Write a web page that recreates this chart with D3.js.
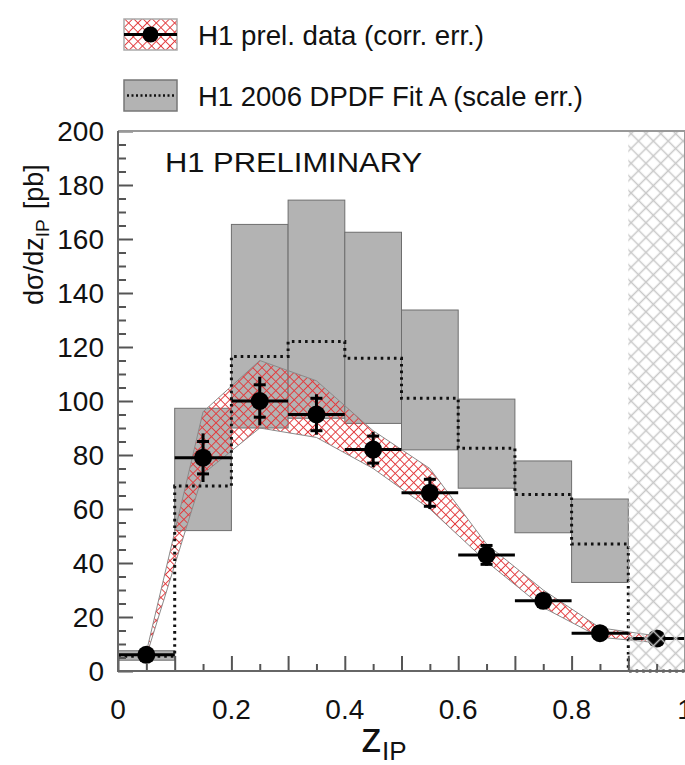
<!DOCTYPE html>
<html>
<head>
<meta charset="UTF-8">
<script src="https://cdn.jsdelivr.net/npm/d3@7"></script>
<style>
body{
  margin:0;
  background-color:#fff;
}
text{
  font-family:"Liberation Sans", Arial, Helvetica, sans-serif;
}
</style>
</head>
<body>
<script>
// z_IP bins (centres) and the measured cross section
var zCentre = [0.05, 0.15, 0.25, 0.35, 0.45, 0.55, 0.65, 0.75, 0.85, 0.95]
var sigma   = [6, 79, 100, 95, 82, 66, 43, 26, 14, 12]
var errTot  = [1.5, 9, 9, 7.5, 6.5, 6, 4, 2.5, 2, 3]
var errStat = [1, 6, 6, 6, 5, 5, 3.5, 2, 1.5, 2]

// correlated error band (upper / lower edge at each bin centre)
var corrHi = [7, 96, 115, 107.5, 89, 75, 47, 30, 16, 13]
var corrLo = [5.5, 73, 90, 86.5, 75, 60, 40.5, 23.5, 12.5, 10.5]

// H1 2006 DPDF Fit A, per bin, with scale uncertainty
var binLo   = [0, 0.1, 0.2, 0.3, 0.4, 0.5, 0.6, 0.7, 0.8, 0.9]
var fitA    = [5.5, 68.5, 116.5, 122, 115.8, 101, 82.5, 65.4, 47, 0]
var fitErrLo = [4, 52, 90, 93.6, 91.7, 81.9, 67.7, 51.2, 32.8, null]
var fitErrHi = [7.5, 97.3, 165.4, 174.4, 162.5, 133.7, 100.7, 77.8, 63.7, null]

var excluded = [0.9, 1.0]

var xTickLabels = [0, 0.2, 0.4, 0.6, 0.8, 1]
var yTickLabels = [0, 20, 40, 60, 80, 100, 120, 140, 160, 180, 200]

var width = 685
var height = 765
var binWidth = 0.1

var x = d3.scaleLinear().domain([0, 1]).range([118, 685])
var y = d3.scaleLinear().domain([0, 200]).range([671, 131])

var svg = d3.select('body')
    .append('svg')
    .attr('width', width)
    .attr('height', height)

var defs = svg.append('defs')

// red cross hatch for the correlated error band
var redHatch = defs.append('pattern')
    .attr('id', 'redHatch')
    .attr('patternUnits', 'userSpaceOnUse')
    .attr('width', 6.5)
    .attr('height', 6.5)
    .attr('patternTransform', 'rotate(45)')
redHatch.append('path')
    .attr('d', 'M0,3.25H6.5M3.25,0V6.5')
    .attr('stroke', '#e23b3e')
    .attr('stroke-width', 1)

// grey cross hatch for the excluded region
var greyHatch = defs.append('pattern')
    .attr('id', 'greyHatch')
    .attr('patternUnits', 'userSpaceOnUse')
    .attr('width', 10.5)
    .attr('height', 10.5)
    .attr('patternTransform', 'rotate(45)')
greyHatch.append('path')
    .attr('d', 'M0,5.25H10.5M5.25,0V10.5')
    .attr('stroke', '#c8c8c8')
    .attr('stroke-width', 1.5)

var plot = svg.append('g')

// scale error boxes of the fit
var fitBins = binLo.map((d, i) => [d, fitErrLo[i], fitErrHi[i]]).filter(d => d[1] != null)
plot.selectAll('.fitbox')
  .data(fitBins)
  .enter().append('rect')
    .attr('class', 'fitbox')
    .attr('x', d => x(d[0]))
    .attr('y', d => y(d[2]))
    .attr('width', d => x(d[0] + binWidth) - x(d[0]))
    .attr('height', d => y(d[1]) - y(d[2]))
    .attr('fill', '#b3b3b3')
    .attr('stroke', '#6e6e6e')
    .attr('stroke-width', 1)

// correlated error band
var band = zCentre.map((d, i) => [d, corrHi[i]])
  .concat(zCentre.map((d, i) => [d, corrLo[i]]).reverse())
plot.append('path')
    .datum(band)
    .attr('d', d3.line().x(d => x(d[0])).y(d => y(d[1])).curve(d3.curveLinearClosed))
    .attr('fill', 'url(#redHatch)')
    .attr('stroke', '#8a8a8a')
    .attr('stroke-width', 1)

// Fit A central value (dotted histogram)
var fitLine = binLo.map((d, i) => [d, fitA[i]])
fitLine.push([1.0, fitA[fitA.length - 1]])
plot.append('path')
    .datum(fitLine)
    .attr('d', d3.line().x(d => x(d[0])).y(d => y(d[1])).curve(d3.curveStepAfter))
    .attr('fill', 'none')
    .attr('stroke', '#111')
    .attr('stroke-width', 3)
    .attr('stroke-dasharray', '2.6,4')

// data points
var pts = zCentre.map((d, i) => ({z: d, v: sigma[i], et: errTot[i], es: errStat[i]}))
var pg = plot.selectAll('.pt')
  .data(pts)
  .enter().append('g')
    .attr('class', 'pt')

pg.append('line')
    .attr('x1', d => x(d.z - binWidth / 2))
    .attr('x2', d => x(d.z + binWidth / 2))
    .attr('y1', d => y(d.v))
    .attr('y2', d => y(d.v))
    .attr('stroke', '#000')
    .attr('stroke-width', 3)
pg.append('line')
    .attr('x1', d => x(d.z))
    .attr('x2', d => x(d.z))
    .attr('y1', d => y(d.v - d.et))
    .attr('y2', d => y(d.v + d.et))
    .attr('stroke', '#000')
    .attr('stroke-width', 3)
// stat error ticks
pg.selectAll('.tick')
  .data(d => [d.v - d.es, d.v + d.es].map(v => ({z: d.z, v: v})))
  .enter().append('line')
    .attr('x1', d => x(d.z) - 6)
    .attr('x2', d => x(d.z) + 6)
    .attr('y1', d => y(d.v))
    .attr('y2', d => y(d.v))
    .attr('stroke', '#000')
    .attr('stroke-width', 3)
pg.append('circle')
    .attr('cx', d => x(d.z))
    .attr('cy', d => y(d.v))
    .attr('r', 9)
    .attr('fill', '#000')

// excluded region
plot.append('rect')
    .attr('x', x(excluded[0]))
    .attr('y', y(200))
    .attr('width', x(excluded[1]) - x(excluded[0]))
    .attr('height', y(0) - y(200))
    .attr('fill', 'url(#greyHatch)')

// axes
var yAxis = d3.axisLeft(y).tickValues(d3.range(0, 201, 5)).tickSize(0).tickFormat('')
var gy = svg.append('g').attr('transform', 'translate(' + x(0) + ',0)').call(yAxis)
gy.select('.domain').remove()
gy.selectAll('.tick line')
    .attr('x2', d => d % 20 == 0 ? 15 : 8)
    .attr('stroke', '#555')
    .attr('stroke-width', 2)

var xAxis = d3.axisBottom(x).tickValues(d3.range(0, 1.001, 0.05)).tickSize(0).tickFormat('')
var gx = svg.append('g').attr('transform', 'translate(0,' + y(0) + ')').call(xAxis)
gx.select('.domain').remove()
gx.selectAll('.tick line')
    .attr('y2', (d, i) => i % 2 == 0 ? -15 : -7)
    .attr('stroke', '#555')
    .attr('stroke-width', 2)

// frame
svg.append('path')
    .attr('d', 'M' + x(0) + ',' + y(200) + 'H' + x(1) + 'V' + y(0))
    .attr('fill', 'none')
    .attr('stroke', '#999')
    .attr('stroke-width', 2)
svg.append('path')
    .attr('d', 'M' + x(0) + ',' + y(200) + 'V' + y(0) + 'H' + x(1))
    .attr('fill', 'none')
    .attr('stroke', '#666')
    .attr('stroke-width', 2)

// tick labels
svg.selectAll('.ylab')
  .data(yTickLabels)
  .enter().append('text')
    .attr('x', 104)
    .attr('y', d => y(d) + 10)
    .attr('text-anchor', 'end')
    .attr('font-size', 28)
    .attr('fill', '#111')
    .text(d => d)

svg.selectAll('.xlab')
  .data(xTickLabels)
  .enter().append('text')
    .attr('x', d => x(d))
    .attr('y', 719)
    .attr('text-anchor', 'middle')
    .attr('font-size', 28)
    .attr('fill', '#111')
    .text(d => d)

// axis titles
var xt = svg.append('text')
    .attr('x', 361)
    .attr('y', 752)
    .attr('font-size', 42)
    .attr('fill', '#111')
xt.append('tspan').text('z')
xt.append('tspan').attr('font-size', 26).attr('dy', 8).text('IP')

var yt = svg.append('text')
    .attr('transform', 'translate(43,305) rotate(-90)')
    .attr('font-size', 27)
    .attr('fill', '#111')
yt.append('tspan').text('dσ/dz')
yt.append('tspan').attr('font-size', 19).attr('dy', 6).text('IP')
yt.append('tspan').attr('dy', -6).attr('dx', 10).text('[pb]')

svg.append('text')
    .attr('x', 165)
    .attr('y', 172)
    .attr('font-size', 27)
    .attr('fill', '#111')
    .attr('textLength', 257)
    .attr('lengthAdjust', 'spacingAndGlyphs')
    .text('H1 PRELIMINARY')

// legend
var leg = svg.append('g')
leg.append('rect')
    .attr('x', 124).attr('y', 19).attr('width', 53).attr('height', 31)
    .attr('fill', '#fff')
leg.append('rect')
    .attr('x', 124).attr('y', 19).attr('width', 53).attr('height', 31)
    .attr('fill', 'url(#redHatch)')
    .attr('stroke', '#aaa').attr('stroke-width', 1.5)
leg.append('line')
    .attr('x1', 124).attr('x2', 177).attr('y1', 34.5).attr('y2', 34.5)
    .attr('stroke', '#000').attr('stroke-width', 3)
leg.append('circle')
    .attr('cx', 150.5).attr('cy', 34.5).attr('r', 8)
    .attr('fill', '#000')
leg.append('text')
    .attr('x', 198).attr('y', 45)
    .attr('font-size', 28)
    .attr('fill', '#111')
    .attr('textLength', 286)
    .attr('lengthAdjust', 'spacingAndGlyphs')
    .text('H1 prel. data (corr. err.)')

leg.append('rect')
    .attr('x', 124).attr('y', 80).attr('width', 53).attr('height', 31)
    .attr('fill', '#b3b3b3')
    .attr('stroke', '#777').attr('stroke-width', 1.5)
leg.append('line')
    .attr('x1', 127).attr('x2', 175).attr('y1', 95.5).attr('y2', 95.5)
    .attr('stroke', '#111').attr('stroke-width', 2.5)
    .attr('stroke-dasharray', '2,2.5')
leg.append('text')
    .attr('x', 198).attr('y', 106)
    .attr('font-size', 28)
    .attr('fill', '#111')
    .attr('textLength', 385)
    .attr('lengthAdjust', 'spacingAndGlyphs')
    .text('H1 2006 DPDF Fit A (scale err.)')
</script>
</body>
</html>
